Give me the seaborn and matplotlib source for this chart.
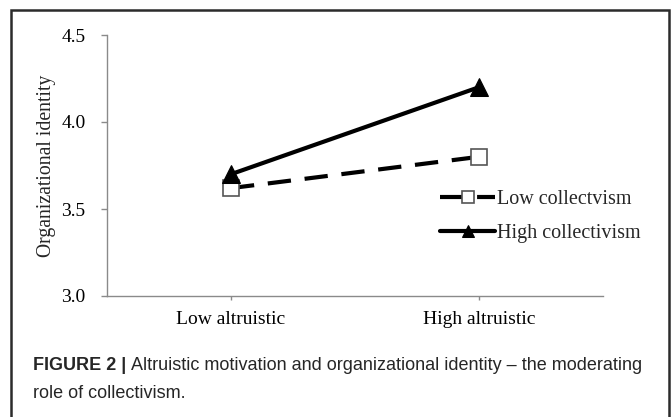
import matplotlib
matplotlib.use("Agg")
import matplotlib.pyplot as plt
import seaborn as sns
import pandas as pd
from matplotlib.patches import Rectangle

categories = ["Low altruistic", "High altruistic"]
low_collectivism = [3.62, 3.80]
high_collectivism = [3.70, 4.20]
series_names = ["Low collectvism", "High collectivism"]
y_ticks = [3.0, 3.5, 4.0, 4.5]
y_label = "Organizational identity"
caption_bold = "FIGURE 2 |"
caption_line1 = "Altruistic motivation and organizational identity \u2013 the moderating"
caption_line2 = "role of collectivism."

sns.set_theme(style="white")
plt.rcParams["font.family"] = ["Liberation Serif", "DejaVu Serif"]

fig = plt.figure(figsize=(6.72, 4.17), dpi=100)
ax = fig.add_axes([107 / 672, (417 - 296) / 417, (603 - 107) / 672, (296 - 35) / 417])

df = pd.DataFrame({"x": [0, 1], "low": low_collectivism, "high": high_collectivism})

sns.lineplot(data=df, x="x", y="low", ax=ax, color="black", lw=3,
             marker="s", markersize=11, markerfacecolor="white",
             markeredgecolor="#555555", markeredgewidth=1.2,
             label=series_names[0])
sns.lineplot(data=df, x="x", y="high", ax=ax, color="black", lw=3,
             marker="^", markersize=13, markerfacecolor="black",
             markeredgecolor="black", label=series_names[1])
ax.lines[0].set_dashes((5.6, 3.3))
ax.lines[0].set_dash_capstyle("butt")

ax.set_xlim(-0.5, 1.5)
ax.set_ylim(3.0, 4.5)
ax.set_xticks([0, 1])
ax.set_xticklabels(categories)
ax.set_yticks(y_ticks)
ax.set_yticklabels([f"{v:.1f}" for v in y_ticks])
ax.set_xlabel("")
ax.set_ylabel(y_label, fontsize=14.2, labelpad=4)

for s in ["top", "right"]:
    ax.spines[s].set_visible(False)
for s in ["left", "bottom"]:
    ax.spines[s].set_color("#8a8a8a")
    ax.spines[s].set_linewidth(1)

ax.tick_params(axis="y", which="both", left=True, length=4.5, width=1,
               color="#8a8a8a", pad=11, labelsize=14, labelcolor="black")
ax.tick_params(axis="x", which="both", bottom=True, length=3, width=1,
               color="#8a8a8a", pad=8, labelsize=14, labelcolor="black")

leg = ax.legend(loc="upper left", bbox_to_anchor=((440 - 107) / 496, (296 - 190) / 261),
                frameon=False, fontsize=14.5, handlelength=2.75, handletextpad=0.08,
                labelspacing=0.72, borderaxespad=0, borderpad=0)
hs = leg.legend_handles
hs[0].set_markersize(8)
hs[1].set_markersize(9)

# figure border box (open at bottom)
fig.patches.append(Rectangle((11 / 672, -0.05), (669 - 11) / 672, (417 - 10) / 417 + 0.05,
                             transform=fig.transFigure, fill=False,
                             edgecolor="#2b2b2b", linewidth=1.8))

cap_font = ["Liberation Sans", "DejaVu Sans"]
t1 = fig.text(33 / 672, (417 - 366) / 417, caption_bold, fontsize=13, fontweight="bold",
              family=cap_font, color="#262626", va="center")
fig.canvas.draw()
bb = t1.get_window_extent()
fig.text((bb.x1 + 5) / 672, (417 - 366) / 417, caption_line1,
         fontsize=13, family=cap_font, color="#262626", va="center")
fig.text(33 / 672, (417 - 393) / 417, caption_line2, fontsize=13,
         family=cap_font, color="#262626", va="center")

fig.savefig("out.png", dpi=100)
